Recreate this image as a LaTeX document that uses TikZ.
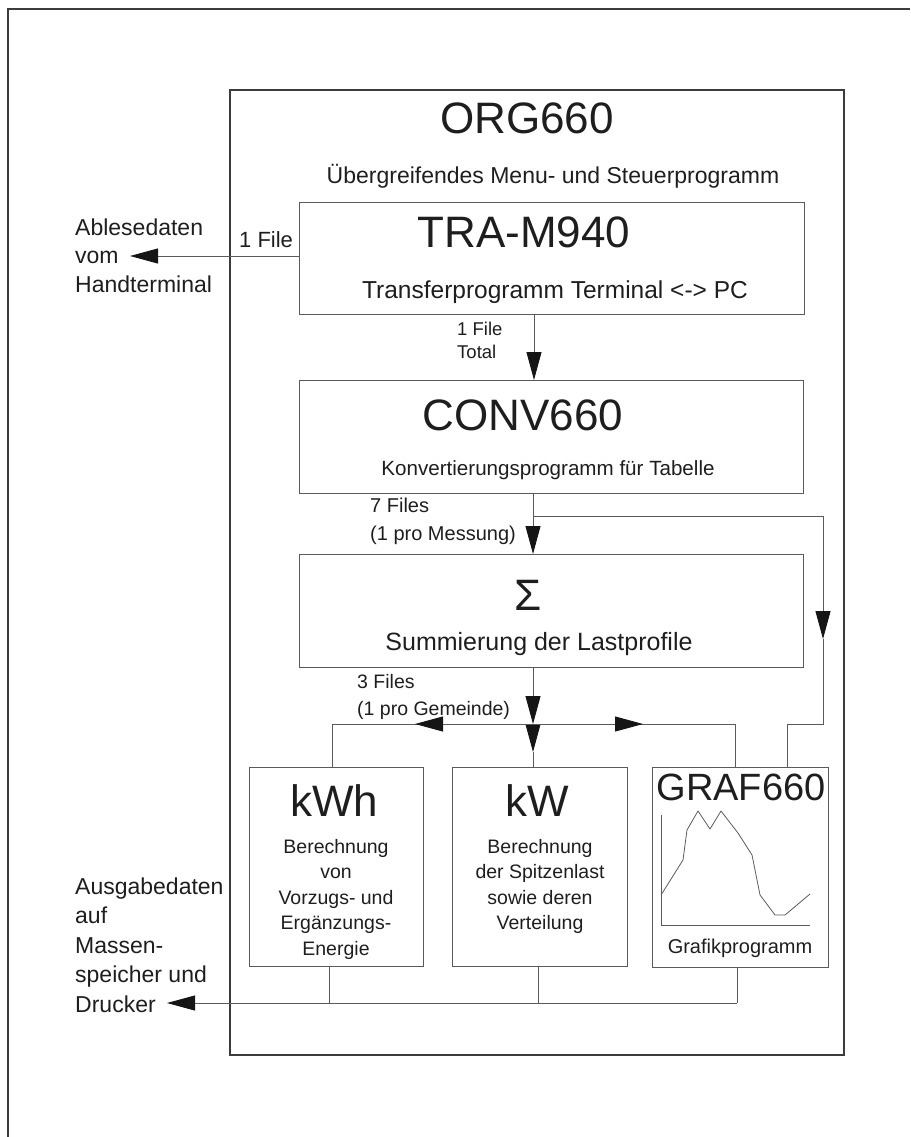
\documentclass[tikz,border=0pt]{standalone}
\usepackage{fontspec}
\setmainfont{Liberation Sans}
\usetikzlibrary{arrows.meta}
\definecolor{linec}{HTML}{5A5A5A}
\definecolor{framec}{HTML}{3C3C3C}
\definecolor{txtc}{HTML}{1E1E1E}
\definecolor{arrc}{HTML}{151515}
\newcommand\myfs[2]{\fontsize{#1}{#2}\selectfont}
\tikzset{tri/.tip={Triangle[length=28pt,width=15pt,color=arrc]}}
\begin{document}
\begin{tikzpicture}[x=1pt,y=-1pt,
  box/.style={draw=linec, line width=0.9pt, inner sep=0pt, outer sep=0pt},
  conn/.style={draw=linec, line width=0.9pt},
  txt/.style={text=txtc, inner sep=0pt, anchor=base},
  ltxt/.style={text=txtc, inner sep=0pt, anchor=base west, align=left},
  ctxt/.style={text=txtc, inner sep=0pt, anchor=base, align=center}]
\useasboundingbox (0,0) rectangle (910,1137);
% page frame
\draw[framec, line width=1.3pt] (8,1137) -- (8,9) -- (910,9);
% main box
\node[draw=framec, line width=1.6pt, inner sep=0pt, minimum width=614pt, minimum height=965pt] (org) at (537,572.5) {};
\node[txt, font={\myfs{44}{50}}] (orgt) at (527,134) {ORG660};
\node[txt, font={\myfs{23}{28}}] (orgs) at (553,183) {Übergreifendes Menu- und Steuerprogramm};
% boxes
\node[box, minimum width=505pt, minimum height=112pt] (tra) at (551.5,258) {};
\node[box, minimum width=504pt, minimum height=113pt] (conv) at (551,436.5) {};
\node[box, minimum width=504pt, minimum height=113pt] (sig) at (551,610.5) {};
\node[box, minimum width=174pt, minimum height=199pt] (kwh) at (336,866.5) {};
\node[box, minimum width=175pt, minimum height=199pt] (kw) at (539.5,866.5) {};
\node[box, minimum width=176pt, minimum height=200pt] (graf) at (740,867) {};
% box texts
\node[txt, font={\myfs{44}{50}}] (trat) at (524,247) {TRA-M940};
\node[txt, font={\myfs{24.5}{29}}] (tras) at (555,298) {Transferprogramm Terminal <-> PC};
\node[txt, font={\myfs{44}{50}}] (convt) at (523,430) {CONV660};
\node[txt, font={\myfs{20.6}{25}}] (convs) at (548,475) {Konvertierungsprogramm für Tabelle};
\node[txt, font={\myfs{44}{50}}] (sigt) at (528,610) {Σ};
\node[txt, font={\myfs{25}{30}}] (sigs) at (539,650) {Summierung der Lastprofile};
\node[txt, font={\myfs{44}{50}}] (kwht) at (334,816) {kWh};
\node[ctxt, font={\myfs{19.5}{25.5}}] (kwhs) at (336,955) {Berechnung\\von\\Vorzugs- und\\Ergänzungs-\\Energie};
\node[txt, font={\myfs{44}{50}}] (kwt) at (537,816) {kW};
\node[ctxt, font={\myfs{19.5}{25.5}}] (kws) at (540,929.5) {Berechnung\\der Spitzenlast\\sowie deren\\Verteilung};
\node[txt, font={\myfs{38}{44}}] (graft) at (741,800) {GRAF660};
\node[txt, font={\myfs{20}{24}}] (grafs) at (740,953) {Grafikprogramm};
% graph
\coordinate (gax) at (661,815);
\coordinate (gor) at (661,925);
\coordinate (gex) at (810,925);
\draw[linec, line width=0.8pt] (gax) -- (gor) -- (gex);
\draw[linec, line width=0.8pt, line join=round] (661,895) -- (683,860) -- (687,830) -- (698,811) -- (710,829) -- (721,811) -- (738,833) -- (752,855) -- (760,895) -- (775,915) -- (785,915) -- (810,894);
% labels
\node[ltxt, font={\myfs{23}{28.5}}] (able) at (75,292) {Ablesedaten\\vom\\Handterminal};
\node[ltxt, font={\myfs{23}{29.5}}] (ausg) at (75,1012) {Ausgabedaten\\auf\\Massen-\\speicher und\\Drucker};
\node[ltxt, font={\myfs{22}{26}}] (f1) at (239,247) {1 File};
\node[ltxt, font={\myfs{18.5}{23}}] (f1t) at (457,358) {1 File\\Total};
\node[ltxt, font={\myfs{20}{28}}] (f7) at (370,540) {7 Files\\(1 pro Messung)};
\node[ltxt, font={\myfs{19.5}{27}}] (f3) at (357,715) {3 Files\\(1 pro Gemeinde)};
% connectors
\coordinate (traL) at (tra.west |- 0,256);
\coordinate (ableTip) at (130,256);
\draw[conn, -{tri}] (traL) -- (ableTip);
\draw[conn, -{tri}] (tra.south -| 534,0) -- (conv.north -| 534,0);
\coordinate (c7) at (conv.south -| 533,0);
\coordinate (br) at (533,516);
\draw[conn, -{tri}] (c7) -- (sig.north -| 533,0);
\coordinate (rt) at (823,516);
\coordinate (rm) at (823,611);
\coordinate (rtip) at (823,639);
\coordinate (rb) at (823,724);
\coordinate (rg) at (787,724);
\draw[conn] (br) -- (rt) -- (rm);
\draw[conn, -{tri}] (rm) -- (rtip);
\draw[conn] (rtip) -- (rb) -- (rg) -- (graf.north -| 787,0);
\coordinate (j) at (533,724);
\coordinate (jt) at (533,752);
\draw[conn, -{tri}] (sig.south -| 533,0) -- (j);
\draw[conn, -{tri}] (j) -- (jt);
\draw[conn] (jt) -- (kw.north -| 533,0);
\coordinate (hl) at (332,724);
\coordinate (hr) at (735,724);
\draw[conn] (kwh.north -| 332,0) -- (hl) -- (hr) -- (graf.north -| 735,0);
\coordinate (la) at (443,724);
\coordinate (lt) at (415,724);
\coordinate (ra) at (615,724);
\coordinate (rtp) at (643,724);
\draw[conn, -{tri}] (la) -- (lt);
\draw[conn, -{tri}] (ra) -- (rtp);
\coordinate (b1) at (329,1003);
\coordinate (b2) at (538,1003);
\coordinate (b3) at (737,1003);
\coordinate (outTip) at (167,1003);
\draw[conn] (kwh.south -| 329,0) -- (b1);
\draw[conn] (kw.south -| 538,0) -- (b2);
\draw[conn] (graf.south -| 737,0) -- (b3);
\draw[conn, -{tri}] (b3) -- (outTip);
\end{tikzpicture}
\end{document}
